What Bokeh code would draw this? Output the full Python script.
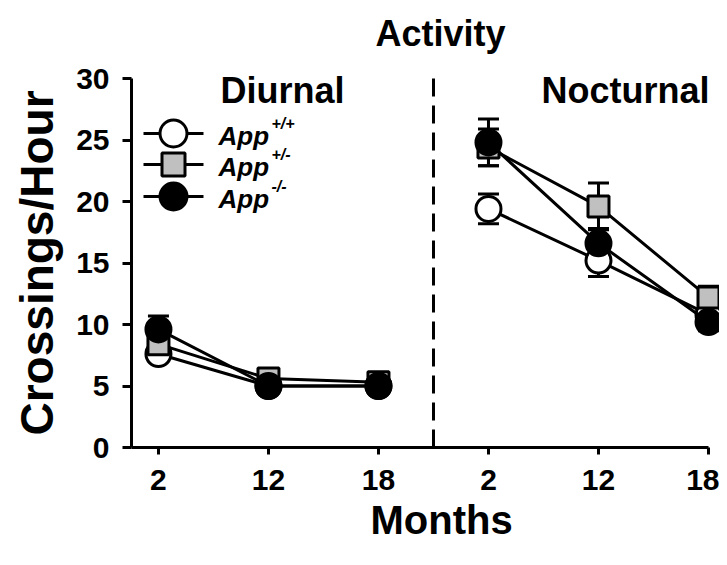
from bokeh.plotting import figure
from bokeh.models import (ColumnDataSource, Whisker, TeeHead, Label,
                          FixedTicker, Title)
from bokeh.embed import file_html
from bokeh.resources import INLINE

# ---------------- data ----------------
periods = ["Diurnal", "Nocturnal"]
months = ["2", "12", "18"]
genotypes = ["App", "App", "App"]
genotype_sup = ["+/+", "+/-", "-/-"]
y_ticks = [0, 5, 10, 15, 20, 25, 30]

wt_diurnal = [7.6, 5.0, 5.0]
wt_diurnal_err = [0.6, 0.4, 0.4]
het_diurnal = [8.4, 5.6, 5.3]
het_diurnal_err = [0.8, 0.5, 0.4]
ko_diurnal = [9.6, 5.0, 5.0]
ko_diurnal_err = [1.1, 0.5, 0.5]

wt_nocturnal = [19.4, 15.2, 10.8]
wt_nocturnal_err = [1.2, 1.3, 0.8]
het_nocturnal = [24.4, 19.6, 12.2]
het_nocturnal_err = [1.5, 1.9, 0.9]
ko_nocturnal = [24.8, 16.6, 10.2]
ko_nocturnal_err = [1.9, 1.2, 0.7]

FONT = "Liberation Sans"
nan = float("nan")

xpos_d = list(range(len(months)))
xpos_n = [len(months) + i for i in range(len(months))]

# ---------------- layout (page pixels) ----------------
W, H = 719, 557
BL, BT, BB = 131, 10, 110
FW, FH = W - BL, H - BT - BB
BOTTOM = BT + FH           # page y of y=0
PX_Y = 30.0 / 369.0        # data units per pixel (y axis 0..30 spans 369 px)
X0, X1 = -0.245, 5.1
PX_X = (X1 - X0) / FW
Y1 = FH * PX_Y


def dx(page_x):
    return X0 + (page_x - BL) * PX_X


def dy(page_y):
    return (BOTTOM - page_y) * PX_Y


def lx(page_x):
    return page_x - BL


def ly(page_y):
    return BOTTOM - page_y


p = figure(width=W, height=H, output_backend="svg", toolbar_location=None,
           x_range=(X0, X1), y_range=(0, Y1),
           min_border_left=BL, min_border_right=0, min_border_top=BT,
           min_border_bottom=BB)
p.outline_line_color = None
p.xgrid.visible = False
p.ygrid.visible = False
p.background_fill_color = "white"
p.border_fill_color = "white"

# divider between diurnal and nocturnal panels
p.segment(x0=[(xpos_d[-1] + xpos_n[0]) / 2], y0=[0],
          x1=[(xpos_d[-1] + xpos_n[0]) / 2], y1=[y_ticks[-1]],
          line_color="black", line_width=3, line_dash="18 9")

series = [
    (wt_diurnal, wt_diurnal_err, wt_nocturnal, wt_nocturnal_err, "circle", "white", 25),
    (het_diurnal, het_diurnal_err, het_nocturnal, het_nocturnal_err, "square", "#c0c0c0", 21),
    (ko_diurnal, ko_diurnal_err, ko_nocturnal, ko_nocturnal_err, "circle", "black", 25),
]

# legend layout (page px)
LEG_X0, LEG_X1, LEG_XM = 143, 203, 173
LEG_ROWS = [133, 164, 196]
LEG_TEXT_X = 218

for i, (yd, ed, yn, en, marker, fill, size) in enumerate(series):
    xs = xpos_d + xpos_n
    ys = yd + yn
    es = ed + en
    src = ColumnDataSource(dict(x=xs, y=ys,
                                upper=[a + b for a, b in zip(ys, es)],
                                lower=[a - b for a, b in zip(ys, es)]))
    lsrc = ColumnDataSource(dict(x=xpos_d + [nan] + xpos_n, y=yd + [nan] + yn))
    p.line("x", "y", source=lsrc, line_color="black", line_width=3)
    w = Whisker(base="x", upper="upper", lower="lower", source=src,
                line_color="black", line_width=3,
                upper_head=TeeHead(size=21, line_width=3, line_color="black"),
                lower_head=TeeHead(size=21, line_width=3, line_color="black"))
    p.add_layout(w)
    p.scatter("x", "y", source=src, marker=marker, size=size,
              fill_color=fill, line_color="black", line_width=3)

    # legend entry
    ry = dy(LEG_ROWS[i])
    p.segment(x0=[dx(LEG_X0)], y0=[ry], x1=[dx(LEG_X1)], y1=[ry],
              line_color="black", line_width=3)
    p.scatter(x=[dx(LEG_XM)], y=[ry], marker=marker, size=size + 2,
              fill_color=fill, line_color="black", line_width=3)
    p.add_layout(Label(x=lx(LEG_TEXT_X), y=ly(LEG_ROWS[i] + 2), x_units="screen",
                       y_units="screen", text=genotypes[i], text_font=FONT,
                       text_font_style="bold italic", text_font_size="26px",
                       text_baseline="middle", text_color="black"))
    p.add_layout(Label(x=lx(LEG_TEXT_X + 53), y=ly(LEG_ROWS[i] - 10), x_units="screen",
                       y_units="screen", text=genotype_sup[i], text_font=FONT,
                       text_font_style="bold italic", text_font_size="16px",
                       text_baseline="middle", text_color="black"))

# axes
tick_pos = xpos_d + xpos_n
p.xaxis.ticker = FixedTicker(ticks=tick_pos)
p.xaxis.major_label_overrides = {x: months[j % 3] for j, x in enumerate(tick_pos)}
p.xaxis.bounds = (X0, xpos_n[-1])
p.yaxis.ticker = FixedTicker(ticks=y_ticks)
p.yaxis.bounds = (y_ticks[0], y_ticks[-1])
for ax in (p.xaxis, p.yaxis):
    ax.axis_line_width = 3
    ax.major_tick_line_width = 3
    ax.minor_tick_line_color = None
    ax.major_tick_in = 0
    ax.major_label_text_font = FONT
    ax.major_label_text_font_style = "bold"
    ax.major_label_text_font_size = "30px"
    ax.major_label_text_color = "black"
    ax.axis_line_color = "black"
    ax.major_tick_line_color = "black"
p.xaxis.major_tick_out = 7
p.yaxis.major_tick_out = 9
p.xaxis.major_label_standoff = 15
p.yaxis.major_label_standoff = 13

# y-axis title, placed along the 0..30 part of the axis
ytitle = Title(text="Crossings/Hour", align="left", offset=12, vertical_align="top",
               text_font=FONT, text_font_style="bold", text_font_size="46px",
               text_color="black", standoff=18)
p.add_layout(ytitle, "left")


def heading(cx, cy, text):
    p.add_layout(Label(x=lx(cx), y=ly(cy), x_units="screen", y_units="screen",
                       text=text, text_font=FONT, text_font_style="bold",
                       text_font_size="36px", text_align="center",
                       text_baseline="middle", text_color="black"))


heading(282, 90, periods[0])
heading(625, 90, periods[1])
heading(440, 33, "Activity")

bottom = Title(text="Months", align="left", offset=239, text_font=FONT,
               text_font_style="bold", text_font_size="40px", text_color="black",
               standoff=6)
p.add_layout(bottom, "below")

open("out.html", "w").write(file_html(p, INLINE))
